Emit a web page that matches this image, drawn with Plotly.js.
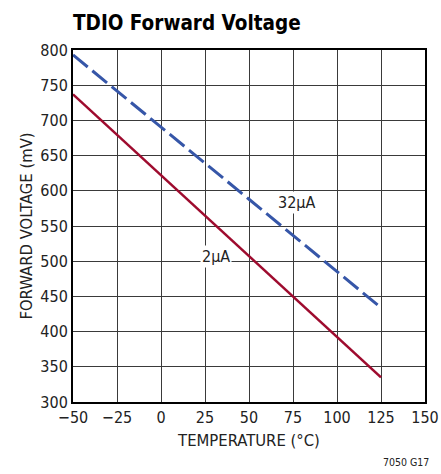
<!DOCTYPE html>
<html><head><meta charset="utf-8">
<script src="https://cdn.plot.ly/plotly-3.0.1.min.js"></script>
<style>body{margin:0;background:#fff}#chart{width:441px;height:474px}</style>
</head><body><div id="chart"></div>
<script>
const temps = [-50, 0, 50, 125];
const v2uA = [737, 622, 507, 335];
const v32uA = [793, 691, 588, 434];
const xTicks = [-50, -25, 0, 25, 50, 75, 100, 125, 150];
const yTicks = [300, 350, 400, 450, 500, 550, 600, 650, 700, 750, 800];
const FONT = '"DejaVu Sans Condensed", "Liberation Sans Narrow", Arial, sans-serif';

const traces = [
  {x: temps, y: v32uA, mode: 'lines', line: {color: '#3656a8', width: 3, dash: '19px,6px'}, hoverinfo: 'skip'},
  {x: temps, y: v2uA, mode: 'lines', line: {color: '#9e0b2e', width: 2.6}, hoverinfo: 'skip'}
];
const layout = {
  width: 441, height: 474,
  margin: {l: 73, r: 16, t: 50, b: 72},
  showlegend: false,
  paper_bgcolor: '#fff', plot_bgcolor: '#fff',
  font: {family: FONT, size: 16, color: '#222'},
  title: {text: '<b>TDIO Forward Voltage</b>', x: 73/441, xanchor: 'left', y: 1 - 30/474, yanchor: 'bottom',
          font: {family: FONT, size: 20.5, color: '#000'}},
  xaxis: {range: [-50, 150], tickvals: xTicks, showgrid: true, gridcolor: '#3a3a3a', gridwidth: 1,
          zeroline: false, showline: true, linecolor: '#000', linewidth: 2, mirror: true, ticks: '',
          tickfont: {size: 16}, title: {text: 'TEMPERATURE (°C)', font: {size: 16.5}, standoff: 8}},
  yaxis: {range: [300, 800], tickvals: yTicks, showgrid: true, gridcolor: '#3a3a3a', gridwidth: 1,
          zeroline: false, showline: true, linecolor: '#000', linewidth: 2, mirror: true, ticks: '',
          tickfont: {size: 16}, title: {text: 'FORWARD VOLTAGE (mV)', font: {size: 16.5}, standoff: 4}},
  annotations: [
    {x: 77, y: 583, text: '32µA', showarrow: false, bgcolor: '#fff', font: {size: 16, color: '#222'}, borderpad: 1},
    {x: 31, y: 506, text: '2µA', showarrow: false, bgcolor: '#fff', font: {size: 16, color: '#222'}, borderpad: 1},
    {x: 1, xref: 'paper', xanchor: 'right', xshift: 6, y: -60/352, yref: 'paper', yanchor: 'middle',
     text: '7050 G17', showarrow: false, font: {size: 10.5, color: '#222'}}
  ]
};
Plotly.newPlot('chart', traces, layout, {displayModeBar: false, staticPlot: true});
</script></body></html>
